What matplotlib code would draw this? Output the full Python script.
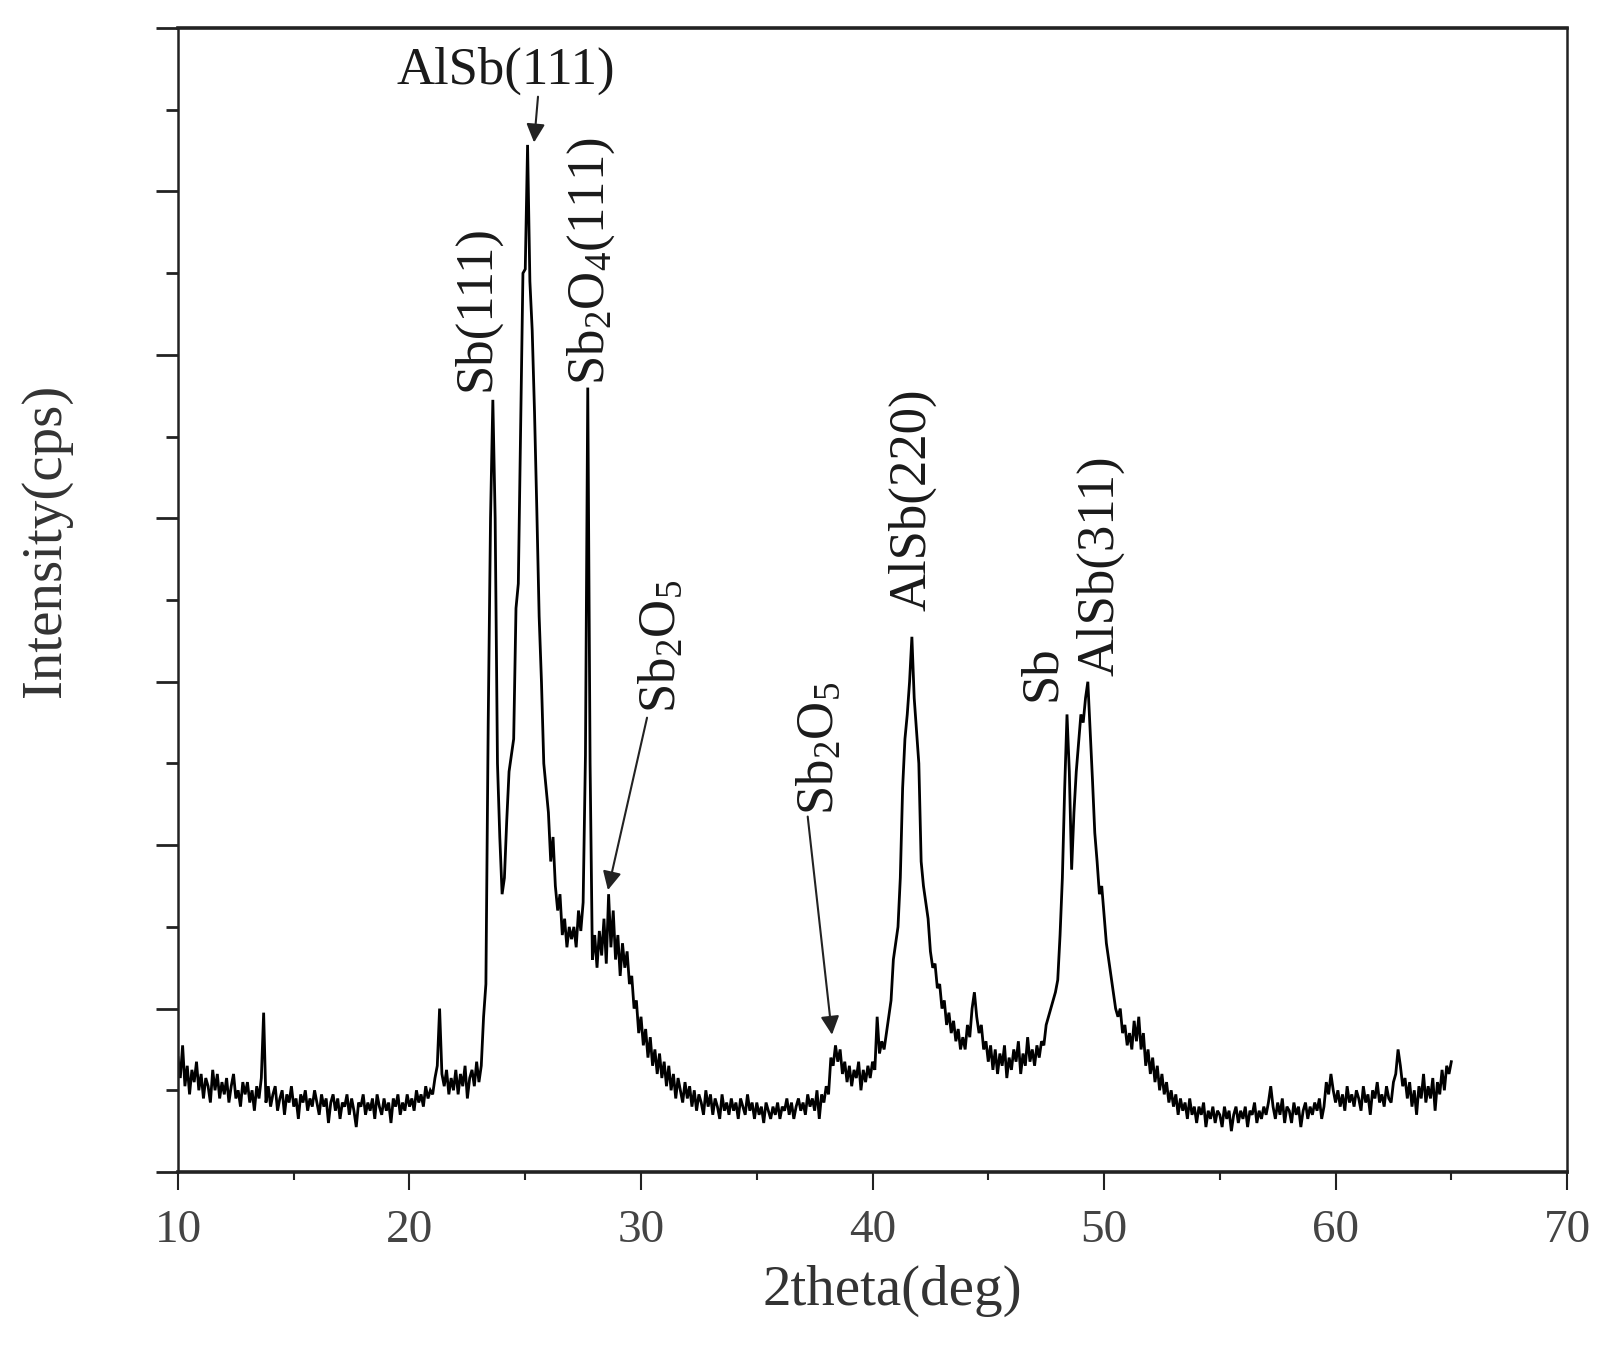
import numpy as np
import matplotlib
matplotlib.use("Agg")
import matplotlib.pyplot as plt
from matplotlib.ticker import MultipleLocator, NullFormatter

plt.rcParams['font.family'] = ['Liberation Serif', 'DejaVu Serif']
plt.rcParams['mathtext.fontset'] = 'custom'
plt.rcParams['mathtext.rm'] = 'Liberation Serif'
plt.rcParams['mathtext.it'] = 'Liberation Serif:italic'

# ---- data: 2theta from 10.0 to 65.0 deg, step 0.1 ----
two_theta = np.round(np.arange(10.0, 65.05, 0.1), 1)

intensity = [
    # 10
    1.40, 1.15, 1.55, 1.05, 1.30, 0.95, 1.25, 1.10, 1.35, 1.00,
    # 11
    1.20, 0.90, 1.15, 1.05, 0.85, 1.25, 1.00, 1.20, 0.90, 1.10,
    # 12
    0.95, 1.15, 0.85, 1.05, 1.20, 0.90, 1.00, 0.80, 1.10, 0.95,
    # 13
    1.10, 0.85, 1.00, 0.75, 1.05, 0.90, 1.15, 1.95, 0.85, 1.05,
    # 14
    0.80, 0.95, 1.05, 0.75, 0.90, 1.00, 0.70, 0.95, 0.85, 1.05,
    # 15
    0.80, 0.90, 0.65, 0.95, 0.85, 1.00, 0.75, 0.90, 0.80, 1.00,
    # 16
    0.85, 0.70, 0.95, 0.80, 0.90, 0.60, 0.85, 0.95, 0.75, 0.90,
    # 17
    0.65, 0.85, 0.80, 0.95, 0.70, 0.90, 0.75, 0.55, 0.85, 0.80,
    # 18
    0.95, 0.70, 0.85, 0.75, 0.90, 0.65, 0.95, 0.80, 0.70, 0.90,
    # 19
    0.75, 0.85, 0.60, 0.90, 0.80, 0.95, 0.70, 0.85, 0.75, 0.95,
    # 20
    0.80, 0.90, 0.75, 1.00, 0.85, 0.95, 0.80, 1.05, 0.90, 1.00,
    # 21
    0.95, 1.15, 1.30, 2.00, 1.20, 1.05, 1.25, 0.95, 1.15, 1.00,
    # 22
    1.25, 0.95, 1.20, 1.05, 1.30, 0.90, 1.15, 1.25, 1.05, 1.35,
    # 23
    1.10, 1.30, 1.90, 2.30, 5.50, 8.00, 9.45, 8.00, 5.00, 4.10,
    # 24
    3.40, 3.60, 4.30, 4.90, 5.10, 5.30, 6.90, 7.20, 9.10, 11.00,
    # 25
    11.05, 12.57, 10.90, 10.30, 9.30, 8.10, 6.80, 6.00, 5.00, 4.70,
    # 26
    4.40, 3.80, 4.10, 3.50, 3.20, 3.40, 2.90, 3.10, 2.75, 3.00,
    # 27
    2.85, 3.00, 2.75, 3.20, 2.95, 3.30, 5.10, 9.60, 5.00, 2.60,
    # 28
    2.90, 2.50, 2.95, 2.65, 3.10, 2.55, 3.40, 2.75, 3.20, 2.60,
    # 29
    2.90, 2.40, 2.80, 2.50, 2.70, 2.30, 2.40, 2.00, 2.10, 1.70,
    # 30
    1.90, 1.55, 1.75, 1.40, 1.65, 1.30, 1.50, 1.20, 1.45, 1.15,
    # 31
    1.35, 1.05, 1.30, 1.00, 1.20, 0.90, 1.15, 1.00, 0.85, 1.10,
    # 32
    0.90, 1.05, 0.80, 1.00, 0.75, 0.95, 0.85, 0.70, 1.00, 0.80,
    # 33
    0.95, 0.70, 0.90, 0.80, 0.65, 0.95, 0.75, 0.85, 0.70, 0.90,
    # 34
    0.75, 0.85, 0.65, 0.90, 0.80, 0.70, 0.95, 0.75, 0.85, 0.65,
    # 35
    0.85, 0.70, 0.80, 0.60, 0.85, 0.75, 0.65, 0.80, 0.70, 0.85,
    # 36
    0.65, 0.80, 0.75, 0.90, 0.70, 0.85, 0.65, 0.80, 0.90, 0.75,
    # 37
    0.85, 0.70, 0.95, 0.80, 0.90, 0.75, 1.00, 0.65, 0.95, 0.85,
    # 38
    1.05, 0.95, 1.40, 1.30, 1.55, 1.35, 1.50, 1.20, 1.35, 1.10,
    # 39
    1.30, 1.05, 1.25, 1.15, 1.35, 1.00, 1.25, 1.10, 1.30, 1.15,
    # 40
    1.35, 1.25, 1.90, 1.45, 1.60, 1.50, 1.70, 1.90, 2.10, 2.60,
    # 41
    2.80, 3.00, 3.60, 4.70, 5.30, 5.60, 6.00, 6.55, 5.80, 5.40,
    # 42
    5.00, 3.80, 3.50, 3.30, 3.10, 2.70, 2.50, 2.55, 2.25, 2.30,
    # 43
    2.00, 2.10, 1.80, 1.95, 1.70, 1.85, 1.60, 1.75, 1.50, 1.65,
    # 44
    1.50, 1.80, 1.65, 2.00, 2.20, 1.90, 1.70, 1.80, 1.50, 1.60,
    # 45
    1.35, 1.55, 1.25, 1.50, 1.20, 1.45, 1.30, 1.55, 1.15, 1.40,
    # 46
    1.25, 1.50, 1.35, 1.60, 1.20, 1.45, 1.30, 1.65, 1.35, 1.50,
    # 47
    1.30, 1.55, 1.40, 1.60, 1.55, 1.80, 1.90, 2.00, 2.10, 2.20,
    # 48
    2.35, 2.90, 3.60, 4.70, 5.60, 4.90, 3.70, 4.40, 4.90, 5.25,
    # 49
    5.60, 5.50, 5.80, 6.00, 5.40, 4.80, 4.15, 3.80, 3.40, 3.50,
    # 50
    3.15, 2.80, 2.60, 2.40, 2.20, 2.00, 1.90, 2.00, 1.70, 1.80,
    # 51
    1.55, 1.70, 1.50, 1.85, 1.60, 1.90, 1.50, 1.70, 1.30, 1.50,
    # 52
    1.20, 1.40, 1.10, 1.30, 1.00, 1.20, 0.95, 1.10, 0.85, 1.00,
    # 53
    0.80, 0.95, 0.70, 0.90, 0.75, 0.85, 0.65, 0.90, 0.70, 0.80,
    # 54
    0.60, 0.80, 0.70, 0.85, 0.55, 0.75, 0.65, 0.80, 0.60, 0.75,
    # 55
    0.70, 0.55, 0.80, 0.65, 0.75, 0.50, 0.70, 0.80, 0.60, 0.75,
    # 56
    0.65, 0.80, 0.55, 0.75, 0.70, 0.85, 0.60, 0.75, 0.65, 0.80,
    # 57
    0.70, 0.85, 1.05, 0.80, 0.65, 0.85, 0.70, 0.90, 0.60, 0.80,
    # 58
    0.75, 0.60, 0.85, 0.70, 0.80, 0.55, 0.75, 0.85, 0.65, 0.80,
    # 59
    0.70, 0.85, 0.75, 0.90, 0.65, 0.80, 1.10, 0.95, 1.20, 1.00,
    # 60
    0.85, 1.00, 0.80, 0.95, 0.75, 1.05, 0.85, 0.95, 0.80, 1.00,
    # 61
    0.90, 0.75, 1.05, 0.85, 0.95, 0.70, 1.00, 0.90, 1.10, 0.85,
    # 62
    0.95, 0.80, 1.05, 0.90, 0.85, 1.10, 1.20, 1.50, 1.30, 1.05,
    # 63
    1.15, 0.90, 1.10, 0.80, 1.00, 0.70, 1.05, 0.90, 1.20, 0.85,
    # 64
    1.05, 0.90, 1.15, 0.75, 1.10, 0.95, 1.25, 1.00, 1.30, 1.20,
    # 65
    1.35,
]

# peak labels
peak_labels = ['AlSb(111)', 'Sb(111)', r'Sb$_\mathrm{2}$O$_\mathrm{4}$(111)',
               r'Sb$_\mathrm{2}$O$_\mathrm{5}$', r'Sb$_\mathrm{2}$O$_\mathrm{5}$',
               'AlSb(220)', 'Sb', 'AlSb(311)']
label_x = [24.17, 22.87, 27.84, 30.90, 37.73, 41.70, 47.32, 49.83]
label_y = [13.48, 10.58, 11.15, 6.43, 5.18, 8.23, 6.10, 7.42]
label_rot = [0, 90, 90, 90, 90, 90, 90, 90]

# arrows: start -> tip
arrow_start = [(25.55, 13.16), (30.26, 5.56), (37.20, 4.35)]
arrow_tip = [(25.38, 12.60), (28.57, 3.45), (38.25, 1.68)]

x_ticks = [10, 20, 30, 40, 50, 60, 70]

fig = plt.figure(figsize=(16.02, 13.69), dpi=100)
ax = fig.add_axes([0.1111, 0.1439, 0.8671, 0.8356])

ax.plot(two_theta, intensity, color='black', lw=2.0, solid_joinstyle='miter')

ax.set_xlim(10, 70)
ax.set_ylim(0, 14)
ax.set_xticks(x_ticks)
ax.xaxis.set_minor_locator(MultipleLocator(5))
ax.yaxis.set_major_locator(MultipleLocator(2))
ax.yaxis.set_minor_locator(MultipleLocator(1))
ax.yaxis.set_major_formatter(NullFormatter())

ax.tick_params(axis='both', which='both', direction='out', top=False, right=False,
               color='#222222')
ax.tick_params(axis='x', which='major', length=13, width=1.5, pad=14,
               labelsize=34, labelcolor='#444444')
ax.tick_params(axis='x', which='minor', length=6, width=1.5)
ax.tick_params(axis='y', which='major', length=16, width=2.0)
ax.tick_params(axis='y', which='minor', length=9, width=2.0)

for side in ['top', 'bottom']:
    ax.spines[side].set_linewidth(2.6)
    ax.spines[side].set_color('#222222')
for side in ['left', 'right']:
    ax.spines[side].set_linewidth(1.8)
    ax.spines[side].set_color('#222222')

ax.set_xlabel('2theta(deg)', fontsize=41, color='#333333')
ax.xaxis.label.set_va('center')
ax.xaxis.set_label_coords(0.514, -0.104)
ax.set_ylabel('Intensity(cps)', fontsize=41, color='#333333')
ax.yaxis.label.set_va('center')
ax.yaxis.set_label_coords(-0.095, 0.5524)

for txt, lx, ly, rot in zip(peak_labels, label_x, label_y, label_rot):
    ax.text(lx, ly, txt, rotation=rot, ha='center', va='center',
            fontsize=38, color='#1a1a1a')

for (sx, sy), (tx, ty) in zip(arrow_start, arrow_tip):
    ax.annotate('', xy=(tx, ty), xytext=(sx, sy),
                arrowprops=dict(arrowstyle='-|>', color='#222222', lw=1.5,
                                mutation_scale=28, shrinkA=0, shrinkB=0))

fig.savefig('out.png', dpi=100)
